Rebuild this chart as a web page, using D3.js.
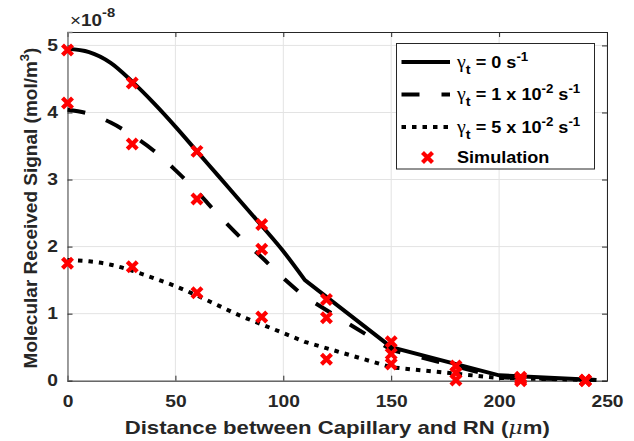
<!DOCTYPE html>
<html>
<head>
<meta charset="utf-8">
<script src="https://cdn.jsdelivr.net/npm/d3@7"></script>
<style>
  html, body { margin: 0; padding: 0; background: #fff; }
  svg { display: block; }
  text { font-family: "Liberation Sans", Arial, sans-serif; }
</style>
</head>
<body>
<svg id="chart" width="634" height="441"></svg>
<script>
// Analytical curves (signal in units of 1e-8 mol/m^3) against distance in µm
const curveX   = [0, 10, 20, 30, 40, 50, 60, 70, 80, 90, 100, 110, 150, 200, 245];
const curveG0  = [4.95, 4.90, 4.74, 4.46, 4.14, 3.79, 3.42, 3.05, 2.68, 2.31, 1.93, 1.50, 0.50, 0.08, 0.01];
const curveG1  = [4.04, 3.98, 3.85, 3.66, 3.43, 3.14, 2.82, 2.47, 2.14, 1.84, 1.53, 1.25, 0.46, 0.05, 0.01];
const curveG5  = [1.80, 1.78, 1.73, 1.64, 1.53, 1.41, 1.27, 1.12, 0.97, 0.84, 0.71, 0.58, 0.20, 0.04, 0.01];
// the sampled curves are smooth up to this distance, straight segments after it
const smoothUpTo = 110;

// Simulation results
const simX  = [0, 30, 60, 90, 120, 150, 180, 210, 240];
const simG0 = [4.93, 4.44, 3.42, 2.33, 1.21, 0.58, 0.22, 0.05, 0.01];
const simG1 = [4.14, 3.53, 2.71, 1.96, 0.94, 0.40, 0.12, 0.02, 0.005];
const simG5 = [1.75, 1.70, 1.31, 0.95, 0.32, 0.25, 0.01, 0.0, 0.0];

// Axis ticks
const xTicks = [0, 50, 100, 150, 200, 250];
const yTicks = [0, 1, 2, 3, 4, 5];

const svg = d3.select("#chart");
const L = 67.5, R = 607, T = 32, B = 380.7;
const x = d3.scaleLinear().domain([0, 250]).range([L, R]);
const y = d3.scaleLinear().domain([0, 5.2]).range([B, T]);

const textCol = "#262626";
const WIDE = 1.18; // horizontal widening of the bold sans text

// grid
const grid = svg.append("g");
grid.selectAll("line.gx").data(xTicks).join("line")
  .attr("x1", d => x(d)).attr("x2", d => x(d)).attr("y1", T).attr("y2", B)
  .attr("stroke", "#e3e3e3").attr("stroke-width", 1);
grid.selectAll("line.gy").data(yTicks).join("line")
  .attr("x1", L).attr("x2", R).attr("y1", d => y(d)).attr("y2", d => y(d))
  .attr("stroke", "#e3e3e3").attr("stroke-width", 1);

// axes
const xAxis = svg.append("g").attr("transform", `translate(0,${B})`)
  .call(d3.axisBottom(x).tickValues(xTicks).tickSize(-5).tickPadding(15).tickFormat(d3.format("d")));
const xTop = svg.append("g").attr("transform", `translate(0,${T})`)
  .call(d3.axisTop(x).tickValues(xTicks).tickSize(-5).tickFormat(""));
const yAxis = svg.append("g").attr("transform", `translate(${L},0)`)
  .call(d3.axisLeft(y).tickValues(yTicks).tickSize(-5).tickPadding(8).tickFormat(d3.format("d")));
const yRight = svg.append("g").attr("transform", `translate(${R},0)`)
  .call(d3.axisRight(y).tickValues(yTicks).tickSize(-5).tickFormat(""));

[xAxis, xTop, yAxis, yRight].forEach(g => {
  g.select(".domain").attr("stroke", textCol).attr("stroke-width", 1);
  g.selectAll(".tick line").attr("stroke", textCol).attr("stroke-width", 1);
  g.selectAll(".tick text").attr("fill", textCol)
    .attr("transform", `scale(${WIDE},1)`)
    .style("font-size", "16.3px").style("font-weight", "bold")
    .style("font-family", "'Liberation Sans', Arial, sans-serif");
});
yAxis.select(".domain").attr("stroke", "#808080").attr("stroke-width", 1.5);

// exponent label
const ex = svg.append("text").attr("transform", `translate(70,25.5) scale(${WIDE},1)`).attr("fill", textCol)
  .style("font-size", "16px").style("font-weight", "bold");
ex.append("tspan").style("font-weight", "normal").text("×");
ex.append("tspan").text("10");
ex.append("tspan").attr("dy", -9).style("font-size", "12.5px").text("-8");

// axis titles
svg.append("text").attr("transform", `translate(${(L + R) / 2},434) scale(${WIDE + 0.01},1)`).attr("text-anchor", "middle")
  .attr("fill", textCol).style("font-size", "18.6px").style("font-weight", "bold")
  .call(t => {
    t.append("tspan").text("Distance between Capillary and RN (");
    t.append("tspan").style("font-family", "'DejaVu Serif', serif").style("font-style", "italic").style("font-weight", "normal").text("μ");
    t.append("tspan").text("m)");
  });

svg.append("text").attr("transform", `translate(36.5,208) rotate(-90)`).attr("text-anchor", "middle")
  .attr("fill", textCol).style("font-size", "19px").style("font-weight", "bold")
  .call(t => {
    t.append("tspan").text("Molecular Received Signal (mol/m");
    t.append("tspan").attr("dy", -8).style("font-size", "13px").text("3");
    t.append("tspan").attr("dy", 8).text(")");
  });

// curves: monotone smoothing over the dense samples, straight segments over the sparse tail
const smoothLine = d3.line().x(d => x(d[0])).y(d => y(d[1])).curve(d3.curveMonotoneX);
function curvePath(ys) {
  const pts = curveX.map((cx, i) => [cx, ys[i]]);
  const head = pts.filter(p => p[0] <= smoothUpTo);
  const tail = pts.filter(p => p[0] > smoothUpTo);
  return smoothLine(head) + tail.map(p => `L${x(p[0])},${y(p[1])}`).join("");
}
const series = [
  { ys: curveG0, dash: null },
  { ys: curveG1, dash: "18,22" },
  { ys: curveG5, dash: "4.5,6" }
];
const plot = svg.append("g");
series.forEach(s => {
  plot.append("path")
    .attr("d", curvePath(s.ys))
    .attr("fill", "none").attr("stroke", "#000").attr("stroke-width", 4)
    .attr("stroke-dasharray", s.dash);
});

// simulation markers
const xMark = "M-5,-5L5,5M-5,5L5,-5";
[simG0, simG1, simG5].forEach(ys => {
  plot.selectAll(null).data(simX.map((sx, i) => [sx, ys[i]])).join("path")
    .attr("transform", d => `translate(${x(d[0])},${y(d[1])})`)
    .attr("d", xMark).attr("stroke", "#ff0000").attr("stroke-width", 4.2)
    .attr("fill", "none");
});

// legend
const lg = svg.append("g");
lg.append("rect").attr("x", 396.5).attr("y", 43.5).attr("width", 198).attr("height", 125.5)
  .attr("fill", "#fff").attr("stroke", textCol).attr("stroke-width", 1);

const LW = 1.11;
const rows = [
  { yy: 62, dash: null, label: ["0"] },
  { yy: 94.5, dash: "18,22", label: ["1 x 10", "-2"] },
  { yy: 127, dash: "4.5,6", label: ["5 x 10", "-2"] }
];
rows.forEach(r => {
  lg.append("line").attr("x1", 401.5).attr("x2", 450).attr("y1", r.yy).attr("y2", r.yy)
    .attr("stroke", "#000").attr("stroke-width", 4).attr("stroke-dasharray", r.dash);
  const t = lg.append("text").attr("transform", `translate(457,${r.yy + 5.5}) scale(${LW},1)`).attr("fill", "#000")
    .style("font-size", "16.3px").style("font-weight", "bold");
  t.append("tspan").style("font-family", "'Liberation Serif', serif").style("font-weight", "normal")
    .style("font-size", "18px").text("γ");
  t.append("tspan").attr("dy", 6).style("font-size", "13px").text("t");
  if (r.label.length === 1) {
    t.append("tspan").attr("dy", -6).text(" = " + r.label[0] + " s");
  } else {
    t.append("tspan").attr("dy", -6).text(" = " + r.label[0]);
    t.append("tspan").attr("dy", -7).style("font-size", "12px").text(r.label[1]);
    t.append("tspan").attr("dy", 7).text(" s");
  }
  t.append("tspan").attr("dy", -7).style("font-size", "12px").text("-1");
});
lg.append("path").attr("transform", "translate(427.5,157.5)").attr("d", xMark)
  .attr("stroke", "#ff0000").attr("stroke-width", 4.2).attr("fill", "none");
lg.append("text").attr("transform", `translate(457,163) scale(${LW},1)`).attr("fill", "#000")
  .style("font-size", "16.3px").style("font-weight", "bold").text("Simulation");
</script>
</body>
</html>
